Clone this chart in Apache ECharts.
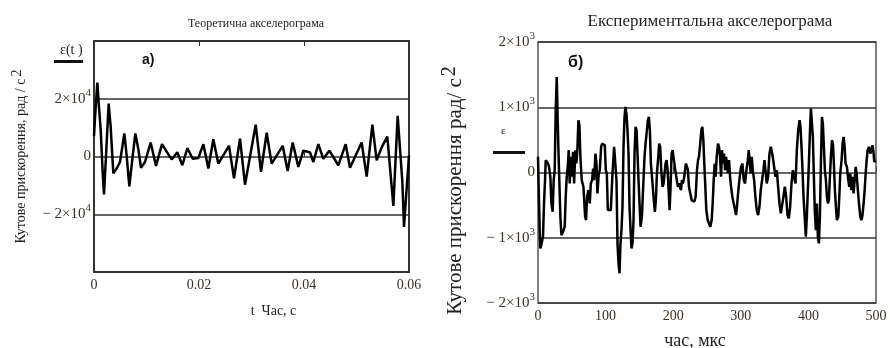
<!DOCTYPE html>
<html><head><meta charset="utf-8">
<script src="https://cdn.jsdelivr.net/npm/echarts@6/dist/echarts.min.js"></script>
<style>html,body{margin:0;padding:0;background:#fff}#c{width:890px;height:348px}</style>
</head><body><div id="c"></div>
<script>
// ---- Panel a) theoretical accelerogram ----
const tTheor = [0,0.00019,0.00063,0.00095,0.00127,0.00165,0.0019,0.00229,0.00279,0.00317,0.00368,0.00432,0.00495,0.00578,0.00622,0.00673,0.00724,0.00787,0.00844,0.00895,0.00971,0.01079,0.01181,0.01295,0.01384,0.01479,0.01587,0.01683,0.01778,0.01879,0.01987,0.02083,0.02178,0.02273,0.02368,0.02571,0.02667,0.02781,0.02876,0.0308,0.03181,0.03289,0.03384,0.03594,0.03689,0.03784,0.03892,0.03987,0.04114,0.04178,0.04273,0.04368,0.04483,0.04654,0.04794,0.04876,0.05098,0.05194,0.05302,0.05384,0.05479,0.05587,0.05702,0.05784,0.05873,0.05905,0.05956,0.06];
const epsTheor = [7080,13260,25630,17200,9330,-5280,-13150,340,18320,10450,-5840,-4160,-1910,7980,340,-10340,-1910,7980,2590,-3930,-1910,4830,-3260,4270,1690,-1010,1460,-3030,2920,-790,-560,4270,-4160,5960,-2470,3710,-7530,6180,-9780,11020,-5280,8210,-2470,3710,-5060,4830,-3600,2020,1460,-1910,4270,-790,2020,-3030,4270,-3930,4830,-6970,11020,-1350,3150,6860,-17080,14050,-8650,-24390,-10900,340];
const xTicksA = ['0','0.02','0.04','0.06'];

// ---- Panel б) experimental accelerogram ----
const tExp = [0,1,2.5,3.5,5.4,7.4,8.9,10.4,11.4,12.8,14.8,16.3,18.3,19.8,21.7,23.2,24.7,26.2,27.7,29.2,30.1,31.1,33.1,34.6,37.1,39.5,41.0,42.5,44.0,45.5,46.9,48.4,49.9,51.9,53.4,55.3,56.8,58.3,59.8,61.3,62.7,64.7,67.2,69.7,71.1,72.6,74.6,76.6,78.1,80.0,81.5,83.0,85.0,86.5,87.9,89.9,91.4,93.4,94.9,96.3,98.8,100.3,101.8,103.3,105.7,107.7,110.2,112.6,114.6,116.1,117.6,119.1,120.6,122.0,123.5,125.0,126.5,128.0,129.4,130.9,132.4,133.9,135.4,136.9,138.3,139.8,141.3,142.8,144.3,145.8,147.2,148.7,150.2,151.7,153.7,155.6,157.6,159.1,160.6,162.5,164.0,165.5,167.0,169.0,170.9,172.9,174.4,175.9,177.9,179.3,180.8,182.3,184.3,185.8,187.3,188.7,190.2,191.7,193.2,194.7,196.1,197.6,199.1,201.1,203.1,205.0,207.0,208.5,210.0,211.5,212.9,214.4,215.9,217.4,218.9,220.4,221.8,223.3,225.3,227.3,229.2,231.2,233.2,235.2,236.7,238.1,239.6,241.6,243.1,244.6,246.0,247.5,249.0,251.0,253.0,254.9,256.9,258.4,259.9,261.4,262.8,264.3,266.3,267.8,269.3,270.8,272.2,273.7,275.2,276.7,278.2,279.6,281.1,282.6,284.1,285.6,287.5,289.5,291.5,293.0,294.5,296.4,298.4,300.4,302.4,304.3,306.3,308.3,310.3,311.8,313.2,314.7,316.2,317.7,319.7,321.6,323.6,325.6,327.6,329.5,331.5,333.5,335.0,336.5,338.4,340.4,342.4,344.4,345.8,347.3,349.3,351.3,353.3,355.2,357.2,359.2,361.2,363.1,365.1,367.1,369.1,371.0,373.0,375.0,377.0,379.0,380.9,382.9,384.9,386.9,388.3,389.8,391.3,392.8,394.8,396.2,397.7,399.2,400.7,402.2,403.7,405.1,406.6,408.1,409.6,411.1,412.5,414.0,415.5,417.0,418.5,420.0,421.4,422.9,424.4,425.9,427.4,428.9,430.3,431.8,433.3,434.8,436.3,437.7,439.2,440.7,442.2,444.2,445.7,447.1,449.1,450.6,452.1,453.6,455.0,457.0,459.0,460.5,462.0,463.4,464.9,466.9,468.4,469.9,471.3,472.8,474.8,476.8,478.3,479.7,481.7,483.2,484.7,486.2,487.6,489.6,491.6,493.1,494.6,496.0,497.5,499.5];
const epsExp = [240,-219,-882,-1163,-1086,-984,-474,-117,189,214,138,87,-66,-474,-602,-117,36,954,1464,1464,393,36,-678,-959,-908,-831,-372,-66,87,342,-168,240,-66,316,-168,342,138,367,801,724,240,-117,-219,-678,-729,-372,-270,-474,-168,-117,61,-117,291,138,-321,-15,36,393,444,418,418,36,-15,-576,-602,-576,-15,393,418,-117,-1086,-1392,-1545,-1086,-882,-525,393,852,1005,903,648,291,-525,-882,-1163,-1086,-729,291,699,648,291,-117,-474,-831,-678,-219,240,444,597,801,852,648,138,-117,-372,-602,-423,-15,240,444,393,36,-219,-168,-168,138,189,36,-270,-576,-219,291,342,189,36,-92,-219,-168,-219,-270,-117,-168,-92,-66,138,87,36,-219,-321,-423,-423,-449,-372,36,189,240,393,648,699,495,138,-219,-576,-729,-755,-831,-729,-474,-117,138,-66,240,444,393,240,-66,342,138,291,36,240,138,-15,189,-66,-219,-372,-474,-576,-653,-500,-270,-66,87,138,-117,-168,36,189,342,138,-15,240,36,-117,-372,-576,-653,-525,-270,-117,36,189,36,-168,-66,291,393,418,240,87,-66,36,-219,-474,-627,-602,-372,-219,-372,-653,-704,-525,-168,36,36,-168,342,648,801,699,393,36,-372,-729,-984,-678,-270,138,597,979,954,546,-66,-627,-882,-474,-984,-1086,-678,138,852,750,393,36,-117,-372,-474,-423,-66,240,495,444,138,-270,-525,-729,-678,-372,-15,189,444,546,393,138,87,-117,-219,-15,-270,-66,-321,-117,87,-15,-219,-474,-678,-729,-678,-474,-270,-15,189,342,393,291,342,418,342,163,189];
const xTicksB = ['0','100','200','300','400','500'];

const serif = '"Liberation Serif","Times New Roman",serif';
const supLabel = (mant, exp) => '{b|' + mant + '×10}{s|' + exp + '}';
const rich = (fs) => ({
  b: {fontFamily: serif, fontSize: fs, color: '#3a3025', lineHeight: fs, verticalAlign: 'bottom'},
  s: {fontFamily: serif, fontSize: Math.round(fs * 0.7), color: '#3a3025', lineHeight: Math.round(fs * 0.7), verticalAlign: 'bottom', padding: [0, 0, 8, 0]}
});

const chart = echarts.init(document.getElementById('c'));
chart.setOption({
  backgroundColor: '#fff',
  animation: false,
  title: [
    {text: 'Теоретична акселерограма', left: 251, top: 13, textAlign: 'center',
     textStyle: {fontFamily: serif, fontSize: 12, fontWeight: 'normal', color: '#222'}},
    {text: 'Експериментальна акселерограма', left: 705, top: 8, textAlign: 'center',
     textStyle: {fontFamily: serif, fontSize: 17, fontWeight: 'normal', color: '#222'}},
    {text: 'a)', left: 137, top: 48, textStyle: {fontFamily: 'Liberation Sans, Arial, sans-serif', fontSize: 14, fontWeight: 'bold', color: '#111'}},
    {text: 'б)', left: 563, top: 50, textStyle: {fontFamily: 'Liberation Sans, Arial, sans-serif', fontSize: 16, fontWeight: 'bold', color: '#111'}},
    {text: 'ε(t )', left: 55, top: 38, textStyle: {fontFamily: serif, fontSize: 14, fontWeight: 'normal', color: '#222'}},
    {text: 'ε', left: 496, top: 121, textStyle: {fontFamily: serif, fontSize: 11, fontWeight: 'normal', color: '#222'}}
  ],
  graphic: [
    {type: 'rect', shape: {x: 54, y: 60, width: 29, height: 3}, style: {fill: '#111'}},
    {type: 'rect', shape: {x: 493, y: 151, width: 32, height: 3}, style: {fill: '#111'}}
  ],
  grid: [
    {left: 94, right: 481, top: 41, height: 231, show: true, borderColor: '#333', borderWidth: 2, backgroundColor: 'transparent', outerBoundsMode: 'none', containLabel: false},
    {left: 538, right: 14, top: 42, height: 261, show: true, borderColor: '#555', borderWidth: 1.5, backgroundColor: 'transparent', outerBoundsMode: 'none', containLabel: false}
  ],
  xAxis: [
    {gridIndex: 0, type: 'value', min: 0, max: 0.06, interval: 0.02, position: 'bottom',
     axisLine: {show: false}, splitLine: {show: false},
     axisTick: {show: true, inside: true, length: 5, lineStyle: {color: '#333'}},
     axisLabel: {fontFamily: serif, fontSize: 14, color: '#3a3025', margin: 6,
       formatter: (v) => xTicksA[Math.round(v / 0.02)]},
     name: 't  Час, с', nameLocation: 'middle', nameGap: 32,
     nameTextStyle: {fontFamily: serif, fontSize: 14, color: '#222', padding: [0, 0, 0, 44]}},
    {gridIndex: 0, type: 'value', min: 0, max: 0.06, interval: 0.02, position: 'top',
     axisLine: {show: false}, splitLine: {show: false}, axisLabel: {show: false},
     axisTick: {show: true, inside: true, length: 5, lineStyle: {color: '#333'}}},
    {gridIndex: 1, type: 'value', min: 0, max: 500, interval: 100, position: 'bottom',
     axisLine: {show: false}, splitLine: {show: false},
     axisTick: {show: true, inside: true, length: 6, lineStyle: {color: '#444'}},
     axisLabel: {fontFamily: serif, fontSize: 14, color: '#3a3025', margin: 6,
       formatter: (v) => xTicksB[Math.round(v / 100)]},
     name: 'час, мкс', nameLocation: 'middle', nameGap: 29,
     nameTextStyle: {fontFamily: serif, fontSize: 18, color: '#222', padding: [0, 24, 0, 0]}}
  ],
  yAxis: [
    {gridIndex: 0, type: 'value', min: -40000, max: 40000, interval: 20000,
     axisLine: {show: false}, axisTick: {show: false},
     splitLine: {show: true, lineStyle: {color: '#333', width: 1.5}},
     axisLabel: {margin: 3, rich: rich(15),
       formatter: (v) => v === 20000 ? supLabel('2', '4') : v === -20000 ? '{b|− }' + supLabel('2', '4') : v === 0 ? '{b|0}' : ''},
     name: 'Кутове прискорення, рад / с{s|2}', nameLocation: 'middle', nameRotate: 90, nameGap: 62,
     nameTextStyle: {fontFamily: serif, fontSize: 14, color: '#222',
       rich: {s: {fontFamily: serif, fontSize: 14, color: '#222', padding: [0, 0, 8, 2]}}}},
    {gridIndex: 1, type: 'value', min: -2000, max: 2000, interval: 1000,
     axisLine: {show: false}, axisTick: {show: false},
     splitLine: {show: true, lineStyle: {color: '#333', width: 1.5}},
     axisLabel: {margin: 3, rich: rich(15),
       formatter: (v) => v === 0 ? '{b|0}' : (v < 0 ? '{b|− }' : '') + supLabel(String(Math.abs(v) / 1000), '3')},
     name: 'Кутове прискорення рад/ с{s|2}', nameLocation: 'middle', nameRotate: 90, nameGap: 68,
     nameTextStyle: {fontFamily: serif, fontSize: 21, color: '#222', padding: [0, 36, 0, 0],
       rich: {s: {fontFamily: serif, fontSize: 20, color: '#222', padding: [0, 0, 10, 2]}}}}
  ],
  series: [
    {type: 'line', xAxisIndex: 0, yAxisIndex: 0, showSymbol: false, symbol: 'none',
     lineStyle: {color: '#000', width: 2.5}, data: tTheor.map((t, i) => [t, epsTheor[i]])},
    {type: 'line', xAxisIndex: 2, yAxisIndex: 1, showSymbol: false, symbol: 'none',
     lineStyle: {color: '#000', width: 2.5}, data: tExp.map((t, i) => [t, epsExp[i]])}
  ]
});
</script></body></html>
